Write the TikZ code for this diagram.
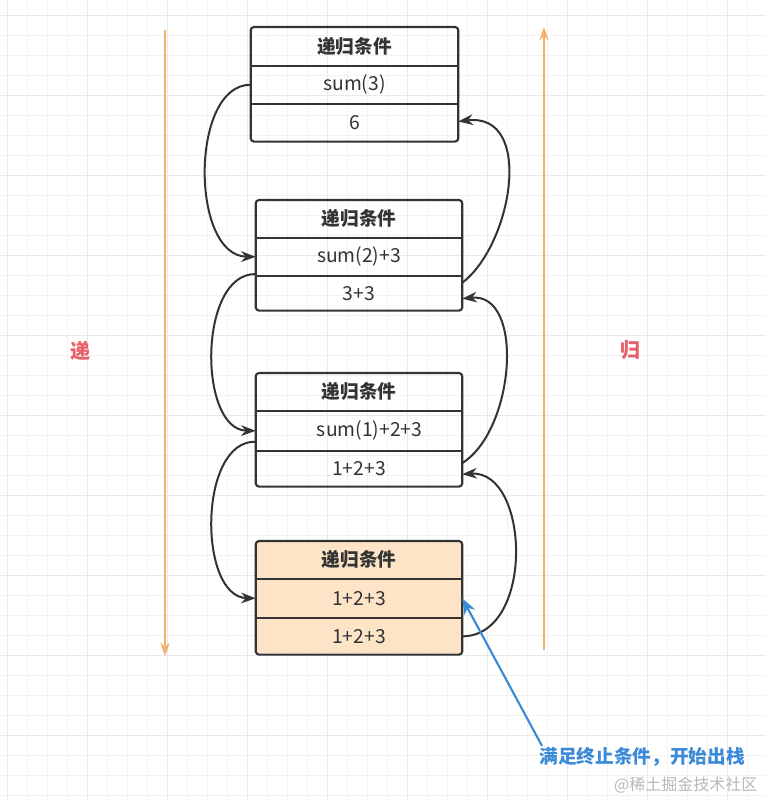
\documentclass[tikz,border=0pt]{standalone}
\usepackage{fontspec}
\setmainfont{Noto Sans CJK SC}
\usetikzlibrary{arrows.meta}
\definecolor{gridminor}{HTML}{F2F2F2}
\definecolor{gridmajor}{HTML}{E9E9E9}
\definecolor{ink}{HTML}{333333}
\definecolor{peach}{HTML}{FDE4C7}
\definecolor{orangeline}{HTML}{F3B26A}
\definecolor{redlabel}{HTML}{E8606A}
\definecolor{bluenote}{HTML}{3B8AD8}
\definecolor{watergray}{HTML}{B8B8B8}
\begin{document}
\begin{tikzpicture}[x=0.75pt,y=-0.75pt,
  rowcell/.style={minimum width=206*0.75pt, inner sep=0pt, anchor=north, text=ink, font=\fontsize{14.5}{16}\selectfont},
  hdrcell/.style={rowcell, font=\fontsize{14}{16}\selectfont\bfseries},
  frame/.style={draw=ink, line width=1.6pt, rounded corners=2.5pt},
  sep/.style={draw=ink, line width=1.5pt},
  link/.style={draw=ink, line width=1.5pt, -{Stealth[length=11pt,width=8pt]}},
  sideline/.style={draw=orangeline, line width=1.5pt, -{Stealth[length=10pt,width=7pt]}},
  sidelabel/.style={text=redlabel, font=\fontsize{15}{17}\selectfont\bfseries},
  note/.style={text=bluenote, font=\fontsize{14}{16}\selectfont\bfseries, inner sep=1pt},
  noteline/.style={draw=bluenote, line width=1.6pt, -{Stealth[length=12pt,width=9pt]}}
]
\useasboundingbox (0,0) rectangle (766,800);
\fill[white] (0,0) rectangle (766,800);
% grid
\foreach \gx in {7,27,...,767} \draw[gridminor, line width=0.6pt] (\gx,0) -- (\gx,800);
\foreach \gy in {15,35,...,795} \draw[gridminor, line width=0.6pt] (0,\gy) -- (766,\gy);
\foreach \gx in {7,87,...,767} \draw[gridmajor, line width=0.7pt] (\gx,0) -- (\gx,800);
\foreach \gy in {15,95,...,795} \draw[gridmajor, line width=0.7pt] (0,\gy) -- (766,\gy);

% side arrows and labels
\coordinate (ltop) at (165,30);
\coordinate (lbot) at (165,656);
\coordinate (rbot) at (544,650);
\coordinate (rtop) at (544,27);
\draw[sideline] (ltop) -- (lbot);
\draw[sideline] (rbot) -- (rtop);
\node[sidelabel] (ldi) at (80,351) {递};
\node[sidelabel] (lgui) at (630,350) {归};

% box 1
\node[hdrcell, minimum width=207*0.75pt, minimum height=38*0.75pt] (b1r1) at (354.5,27) {递归条件};
\node[rowcell, minimum width=207*0.75pt, minimum height=38*0.75pt] (b1r2) at (b1r1.south) {sum(3)};
\node[rowcell, minimum width=207*0.75pt, minimum height=37*0.75pt] (b1r3) at (b1r2.south) {6};
\draw[frame] (b1r1.north west) rectangle (b1r3.south east);
\draw[sep] (b1r2.north west) -- (b1r2.north east);
\draw[sep] (b1r3.north west) -- (b1r3.north east);

% box 2
\node[hdrcell, minimum height=37*0.75pt] (b2r1) at (359,200) {递归条件};
\node[rowcell, minimum height=38*0.75pt] (b2r2) at (b2r1.south) {sum(2)+3};
\node[rowcell, minimum height=34*0.75pt] (b2r3) at (b2r2.south) {3+3};
\draw[frame] (b2r1.north west) rectangle (b2r3.south east);
\draw[sep] (b2r2.north west) -- (b2r2.north east);
\draw[sep] (b2r3.north west) -- (b2r3.north east);

% box 3
\node[hdrcell, minimum height=37*0.75pt] (b3r1) at (359,373) {递归条件};
\node[rowcell, minimum height=40*0.75pt] (b3r2) at (b3r1.south) {\hspace*{16pt}sum(1)+2+3};
\node[rowcell, minimum height=35*0.75pt] (b3r3) at (b3r2.south) {1+2+3};
\draw[frame] (b3r1.north west) rectangle (b3r3.south east);
\draw[sep] (b3r2.north west) -- (b3r2.north east);
\draw[sep] (b3r3.north west) -- (b3r3.north east);

% box 4
\fill[peach, rounded corners=2.5pt] (256,541) rectangle (462,653);
\node[hdrcell, minimum height=37*0.75pt] (b4r1) at (359,541) {递归条件};
\node[rowcell, minimum height=39*0.75pt] (b4r2) at (b4r1.south) {1+2+3};
\node[rowcell, minimum height=36*0.75pt] (b4r3) at (b4r2.south) {1+2+3};
\draw[frame] (b4r1.north west) rectangle (b4r3.south east);
\draw[sep] (b4r2.north west) -- (b4r2.north east);
\draw[sep] (b4r3.north west) -- (b4r3.north east);

% descending links (left)
\draw[link] (b1r2.west) .. controls (190,84) and (190,256) .. (b2r2.west);
\draw[link] ([yshift=1.5pt]b2r3.north west) .. controls (198,273) and (198,430) .. (b3r2.west);
\draw[link] ([yshift=7pt]b3r3.north west) .. controls (198,440) and (198,597) .. (b4r2.west);

% ascending links (right)
\draw[link] (b4r3.east) .. controls (535,636) and (530,470) .. ([yshift=-4pt]b3r3.east);
\draw[link] ([yshift=-9pt]b3r2.south east) .. controls (515,430) and (525,292) .. ([yshift=-4pt]b2r3.east);
\draw[link] ([yshift=-5pt]b2r3.north east) .. controls (512,245) and (535,112) .. ([yshift=1pt]b1r3.east);

% note
\node[note, anchor=west] (note) at (538,757) {满足终止条件，开始出栈};
\draw[noteline] ([xshift=3pt]note.north west) -- (b4r2.east);
\node[text=watergray, font=\fontsize{12}{14}\selectfont, anchor=east] (wm) at (762,785) {@稀土掘金技术社区};
\end{tikzpicture}
\end{document}
